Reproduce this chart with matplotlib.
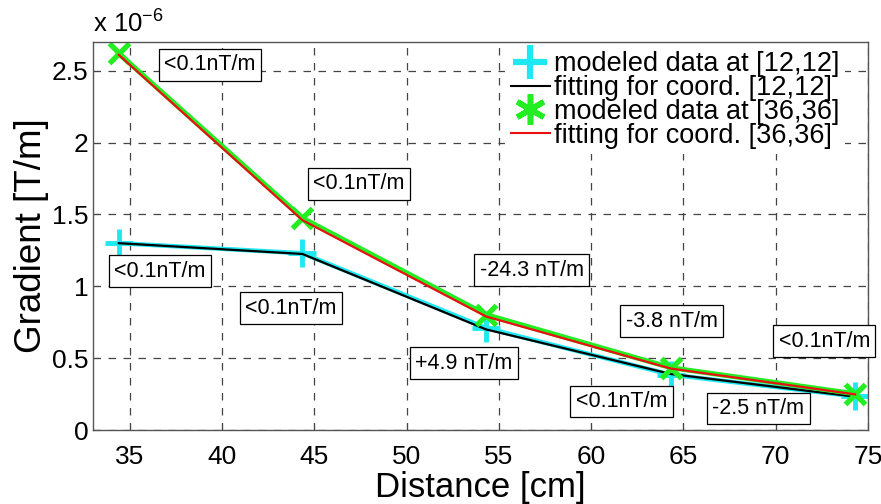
import matplotlib
matplotlib.use("Agg")
import matplotlib.pyplot as plt
from matplotlib.lines import Line2D

plt.rcParams['font.family'] = ['Liberation Sans', 'DejaVu Sans']
plt.rcParams['mathtext.default'] = 'regular'

# distances [cm] and gradients [x 1e-6 T/m]
dist = [34.4, 44.35, 54.3, 64.3, 74.3]
mod_12 = [1.30, 1.23, 0.71, 0.385, 0.234]
fit_12 = [1.30, 1.225, 0.70, 0.39, 0.232]
mod_36 = [2.62, 1.475, 0.803, 0.434, 0.252]
fit_36 = [2.61, 1.46, 0.79, 0.428, 0.248]

# residual labels (text, x, y)
notes = ['<0.1nT/m', '<0.1nT/m', '<0.1nT/m', '<0.1nT/m', '-24.3 nT/m',
         '+4.9 nT/m', '-3.8 nT/m', '<0.1nT/m', '<0.1nT/m', '-2.5 nT/m']
note_x = [39.33, 47.40, 36.63, 43.72, 56.77, 53.09, 64.35, 72.63, 61.64, 69.06]
note_y = [2.542, 1.712, 1.105, 0.847, 1.112, 0.464, 0.757, 0.617, 0.199, 0.150]

cyan = '#1ee8f2'
green = '#22ee22'
red = '#e81010'

fig = plt.figure(figsize=(8.81, 5.04), dpi=100)
ax = fig.add_axes([93/881, 1 - 430/504, 775/881, 388/504])

ax.plot(dist, mod_12, color=cyan, lw=3.2, marker='+', ms=20, mew=3.5)
ax.plot(dist, fit_12, color='black', lw=1.6)
ax.plot(dist, mod_36, color=green, lw=3.6, marker='x', ms=15, mew=3.8)
ax.plot(dist, fit_36, color=red, lw=1.6)

for t, x, y in zip(notes, note_x, note_y):
    ax.text(x, y, t, fontsize=15.5, ha='center', va='center', clip_on=False, zorder=5,
            bbox=dict(boxstyle='square,pad=0.25', fc='white', ec='black', lw=0.9))

ax.set_xlim(33, 75)
ax.set_ylim(0, 2.7)
ax.set_xticks([35, 40, 45, 50, 55, 60, 65, 70, 75])
ax.set_yticks([0, 0.5, 1, 1.5, 2, 2.5])
ax.set_yticklabels(['0', '0.5', '1', '1.5', '2', '2.5'])
ax.tick_params(direction='in', labelsize=19, length=5, color='#444444')
ax.tick_params(axis='x', pad=11)
ax.grid(True, color='#444444', linestyle=(0, (6, 6)), lw=0.9)
for s in ax.spines.values():
    s.set_color('#555555')
    s.set_linewidth(1.0)

ax.set_xlabel('Distance [cm]', fontsize=25, labelpad=1)
ax.set_ylabel('Gradient [T/m]', fontsize=26.5, labelpad=2)
ax.text(0.0, 1.012, 'x 10$^{-6}$', transform=ax.transAxes, fontsize=18.5,
        ha='left', va='bottom')

handles = [
    Line2D([], [], color=cyan, lw=0, marker='+', ms=24, mew=4.5),
    Line2D([], [], color='black', lw=1.5),
    Line2D([], [], color=green, lw=0, marker=(6, 2, 0), ms=22, mew=4),
    Line2D([], [], color=red, lw=1.5),
]
labels = ['modeled data at [12,12]', 'fitting for coord. [12,12]',
          'modeled data at [36,36]', 'fitting for coord. [36,36]']
leg = ax.legend(handles, labels, loc='upper right', fontsize=19.5, frameon=True,
                handlelength=1.45, handletextpad=0.15, labelspacing=-0.08,
                borderaxespad=0.0, borderpad=0.2, bbox_to_anchor=(0.97, 0.99))
leg.get_frame().set_edgecolor('none')
leg.get_frame().set_facecolor('white')
leg.get_frame().set_alpha(1)
leg.set_zorder(6)

fig.savefig('out.png', dpi=100)
